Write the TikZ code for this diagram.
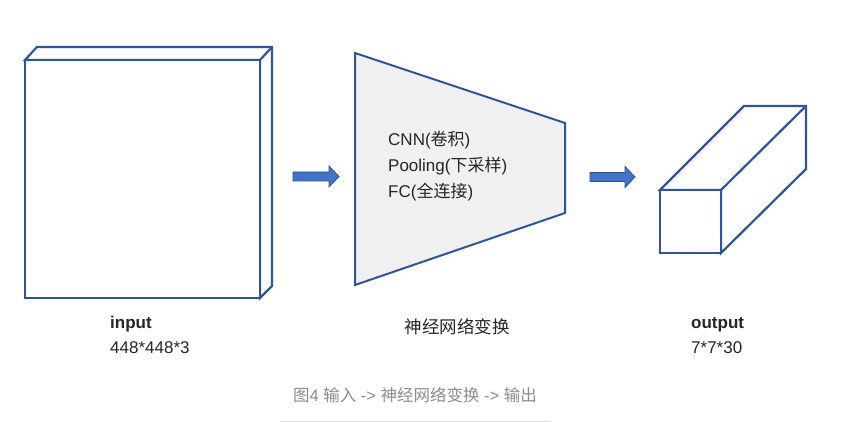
\documentclass[tikz,border=0pt]{standalone}
\usepackage{fontspec}
\setmainfont{Liberation Sans}
\newfontfamily\cjk{Noto Sans CJK SC}
\begin{document}
\begin{tikzpicture}[x=1pt,y=-1pt,
  edge/.style={draw=boxblue,line width=2.2pt,line join=miter},
  blockarrow/.style={fill=arrowblue,draw=arrowedge,line width=0.8pt},
  lbl/.style={inner sep=0pt,anchor=base west,font=\fontsize{17}{20}\selectfont,text=black!85},
  boldlbl/.style={lbl,font=\fontsize{17}{20}\selectfont\bfseries}]
\definecolor{boxblue}{HTML}{2F5597}
\definecolor{arrowblue}{HTML}{4472C4}
\definecolor{arrowedge}{HTML}{2F528F}
\definecolor{trapfill}{HTML}{F0F0F0}
\useasboundingbox[fill=white] (0,0) rectangle (851,422);
% input slab
\coordinate (iFTL) at (25,60); \coordinate (iFTR) at (260,60);
\coordinate (iFBR) at (260,298); \coordinate (iFBL) at (25,298);
\coordinate (iBTL) at (37,47); \coordinate (iBTR) at (272,47);
\coordinate (iBBR) at (272,286);
\draw[edge,fill=white] (iFTL) -- (iBTL) -- (iBTR) -- (iBBR) -- (iFBR) -- (iFTR) -- cycle;
\draw[edge] (iFTR) -- (iBTR);
\draw[edge,fill=white] (iFTL) rectangle (iFBR);
% arrow 1
\coordinate (a1) at (293,176.5);
\draw[blockarrow] (a1) ++(0,-4.5) -- ++(36,0) -- ++(0,-6) -- ++(10,10.5) -- ++(-10,10.5) -- ++(0,-6) -- ++(-36,0) -- cycle;
% trapezoid
\coordinate (tTL) at (355,53); \coordinate (tTR) at (565,123);
\coordinate (tBR) at (565,213); \coordinate (tBL) at (355,285);
\draw[edge,fill=trapfill,line width=2pt] (tTL) -- (tTR) -- (tBR) -- (tBL) -- cycle;
\node[lbl] (l1) at (388,146) {CNN({\cjk 卷积})};
\node[lbl] (l2) at (388,172) {Pooling({\cjk 下采样})};
\node[lbl] (l3) at (388,198) {FC({\cjk 全连接})};
% arrow 2
\coordinate (a2) at (590,177);
\draw[blockarrow] (a2) ++(0,-4.5) -- ++(35,0) -- ++(0,-6) -- ++(10,10.5) -- ++(-10,10.5) -- ++(0,-6) -- ++(-35,0) -- cycle;
% output cuboid
\coordinate (oFTL) at (660,190); \coordinate (oFTR) at (721,190);
\coordinate (oFBR) at (721,253); \coordinate (oFBL) at (660,253);
\coordinate (oBTL) at (744,106); \coordinate (oBTR) at (806,106);
\coordinate (oBBR) at (806,169);
\draw[edge,fill=white] (oFTL) -- (oBTL) -- (oBTR) -- (oBBR) -- (oFBR) -- (oFTR) -- cycle;
\draw[edge] (oFTR) -- (oBTR);
\draw[edge,fill=white] (oFTL) rectangle (oFBR);
% labels
\node[boldlbl] (inlbl) at (110,328) {input};
\node[lbl] (indim) at (110,353) {448*448*3};
\node[inner sep=0pt,anchor=base,font=\cjk\fontsize{17.5}{20}\selectfont,text=black!85] (mid) at (457,333) {神经网络变换};
\node[boldlbl] (outlbl) at (691,328) {output};
\node[lbl] (outdim) at (691,353) {7*7*30};
\node[inner sep=0pt,anchor=base,font=\fontsize{16.5}{20}\selectfont,text=black!45] (cap) at (415,401) {{\cjk 图}4 {\cjk 输入} -> {\cjk 神经网络变换} -> {\cjk 输出}};
\draw[black!10,line width=1pt] (280,421) -- (551,421);
\end{tikzpicture}
\end{document}
